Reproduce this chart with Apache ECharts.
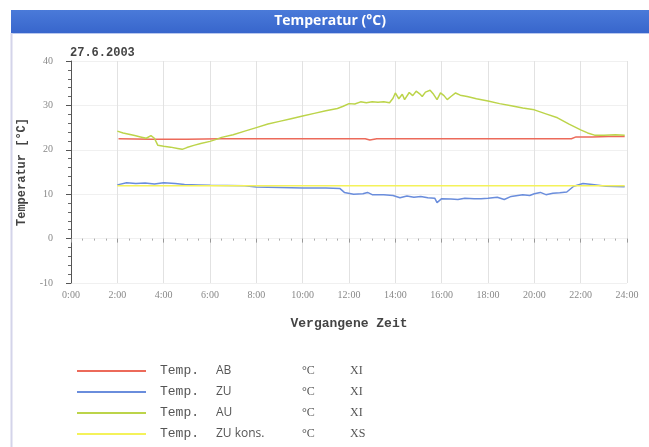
<!DOCTYPE html>
<html><head><meta charset="utf-8">
<script src="https://cdn.jsdelivr.net/npm/echarts@6/dist/echarts.min.js"></script>
<style>html,body{margin:0;padding:0;background:#fff}#c{width:649px;height:447px}</style>
</head><body><div id="c"></div>
<script>
var titleText = 'Temperatur (°C)';
var dateText = '27.6.2003';
var xTickLabels = ['0:00','2:00','4:00','6:00','8:00','10:00','12:00','14:00','16:00','18:00','20:00','22:00','24:00'];
var seriesNames = ['Temp. AB','Temp. ZU','Temp. AU','Temp. ZU kons.'];
var seriesUnits = ['°C','°C','°C','°C'];
var seriesTypes = ['XI','XI','XI','XS'];

var abTime = [2.05,3.5,5.0,6.5,8.0,10.0,12.0,12.7,12.9,13.2,15.0,17.0,19.0,21.6,21.8,22.5,23.2,23.9];
var abVal  = [22.5,22.4,22.4,22.5,22.5,22.5,22.5,22.5,22.2,22.5,22.5,22.5,22.5,22.5,22.9,22.9,23.0,23.0];

var zuTime = [2.0,2.4,2.8,3.2,3.6,4.0,4.5,4.9,5.5,6.0,7.5,8.0,9.0,10.0,11.0,11.6,11.8,12.2,12.6,12.8,13.0,13.5,13.9,14.2,14.5,14.8,15.1,15.4,15.7,15.8,16.0,16.4,16.7,17.0,17.4,17.7,18.0,18.4,18.7,19.0,19.5,19.8,20.0,20.26,20.5,20.8,21.1,21.4,21.7,22.1,22.5,23.1,23.9];
var zuVal  = [12.1,12.6,12.4,12.5,12.3,12.6,12.4,12.2,12.1,12.0,11.9,11.6,11.5,11.4,11.4,11.3,10.4,10.0,10.1,10.4,9.9,9.9,9.7,9.2,9.6,9.3,9.5,9.2,9.1,8.1,9.0,8.9,8.8,9.1,9.0,9.0,9.1,9.3,8.8,9.5,9.9,9.7,10.1,10.4,9.9,10.2,10.3,10.5,11.8,12.4,12.2,11.8,11.7];

var auTime = [2.0,2.25,2.5,2.75,3.0,3.25,3.45,3.6,3.75,4.0,4.3,4.6,4.8,5.0,5.3,5.6,6.0,6.3,6.5,7.0,7.5,8.0,8.5,9.0,9.5,10.0,10.5,11.0,11.5,11.75,12.0,12.25,12.5,12.75,13.0,13.25,13.5,13.75,13.9,14.0,14.15,14.3,14.4,14.6,14.75,14.9,15.05,15.16,15.3,15.5,15.65,15.8,15.95,16.1,16.24,16.4,16.6,16.8,17.1,17.5,18.0,18.5,19.0,19.5,20.0,20.5,21.0,21.5,22.0,22.3,22.6,23.0,23.5,23.9];
var auVal  = [24.2,23.8,23.5,23.2,22.9,22.6,23.2,22.6,21.0,20.8,20.6,20.3,20.1,20.5,21.0,21.4,21.9,22.4,22.8,23.4,24.2,25.0,25.8,26.4,27.0,27.6,28.2,28.8,29.3,29.8,30.4,30.3,30.8,30.6,30.8,30.7,30.8,30.6,31.6,32.8,31.5,32.5,31.3,32.9,32.2,33.2,32.6,32.0,33.0,33.4,32.5,31.3,32.8,32.2,31.3,32.0,32.8,32.3,32.0,31.5,31.0,30.4,29.9,29.4,29.0,28.1,27.2,25.8,24.5,23.8,23.3,23.3,23.4,23.3];

var konsTime = [2.0,23.9];
var konsVal  = [11.9,11.9];

var colors = ['#ec6a5a','#6a8ddc','#bcd44a','#f4f25a'];

function pairs(t,v){ return t.map(function(x,i){ return [x,v[i]]; }); }
var dataSets = [pairs(abTime,abVal), pairs(zuTime,zuVal), pairs(auTime,auVal), pairs(konsTime,konsVal)];

var chart = echarts.init(document.getElementById('c'));
var mono = 'Liberation Mono';
var option = {
  animation:false,
  backgroundColor:'#ffffff',
  graphic:[
    {type:'rect', shape:{x:11,y:10,width:638,height:23}, style:{fill:new echarts.graphic.LinearGradient(0,0,0,1,[{offset:0,color:'#4a7ad9'},{offset:1,color:'#3866cc'}])}, z:0},
    {type:'line', shape:{x1:11,y1:33.5,x2:649,y2:33.5}, style:{stroke:'#b9c8ee',lineWidth:1}},
    {type:'line', shape:{x1:11.5,y1:33,x2:11.5,y2:447}, style:{stroke:'#d4d4ea',lineWidth:2}},
    {type:'text', x:330, y:21.5, style:{text:titleText, fill:'#ffffff', font:'bold 14px "Open Sans", sans-serif', align:'center', verticalAlign:'middle'}},
    {type:'text', x:70, y:53, style:{text:dateText, fill:'#444', font:'bold 12px '+mono, align:'left', verticalAlign:'middle'}}
  ],
  grid:{left:71, right:22, top:61, bottom:164},
  xAxis:{
    type:'value', min:0, max:24, interval:2,
    name:'Vergangene Zeit', nameLocation:'middle', nameGap:34,
    nameTextStyle:{fontFamily:mono, fontWeight:'bold', fontSize:13, color:'#444'},
    axisLine:{show:false},
    axisTick:{show:true, length:4, lineStyle:{color:'#999'}},
    minorTick:{show:true, splitNumber:4, length:2, lineStyle:{color:'#aaa'}},
    axisLabel:{fontFamily:'Liberation Serif', fontSize:10, color:'#888', margin:7,
      formatter:function(v){ return xTickLabels[Math.round(v/2)]; }},
    splitLine:{show:true, lineStyle:{color:'#e2e2e2', width:1}}
  },
  yAxis:{
    type:'value', min:-10, max:40, interval:10,
    name:'Temperatur [°C]', nameLocation:'middle', nameGap:43, nameRotate:90,
    nameTextStyle:{fontFamily:mono, fontWeight:'bold', fontSize:12, color:'#444'},
    axisLine:{show:true, lineStyle:{color:'#555', width:1}},
    axisTick:{show:true, length:5, lineStyle:{color:'#555'}},
    minorTick:{show:true, splitNumber:5, length:3, lineStyle:{color:'#666'}},
    axisLabel:{fontFamily:'Liberation Serif', fontSize:10, color:'#888', margin:18},
    splitLine:{show:true, lineStyle:{color:'#f0f0f0', width:1}}
  },
  legend:{
    orient:'vertical', left:77, top:364, height:120, padding:0, itemWidth:69, itemHeight:2, itemGap:7,
    icon:'rect', selectedMode:false,
    data:seriesNames,
    formatter:function(name){
      var i = seriesNames.indexOf(name);
      var rest = name.replace('Temp. ','');
      return '{p| }{a|Temp.}{b|'+rest+'}{c|'+seriesUnits[i]+'}{d|'+seriesTypes[i]+'}';
    },
    textStyle:{
      lineHeight:14,
      rich:{
        p:{width:9},
        a:{fontFamily:mono, fontSize:13, color:'#555', width:56},
        b:{fontFamily:'"Open Sans", sans-serif', fontSize:12, color:'#555', width:86},
        c:{fontFamily:'Liberation Serif', fontSize:12, color:'#555', width:48},
        d:{fontFamily:'Liberation Serif', fontSize:12, color:'#555'}
      }
    }
  },
  series: seriesNames.map(function(n,i){
    return {name:n, type:'line', data:dataSets[i], showSymbol:false, symbol:'none',
      lineStyle:{color:colors[i], width:1.5}, itemStyle:{color:colors[i]}};
  })
};
chart.setOption(option);
</script></body></html>
